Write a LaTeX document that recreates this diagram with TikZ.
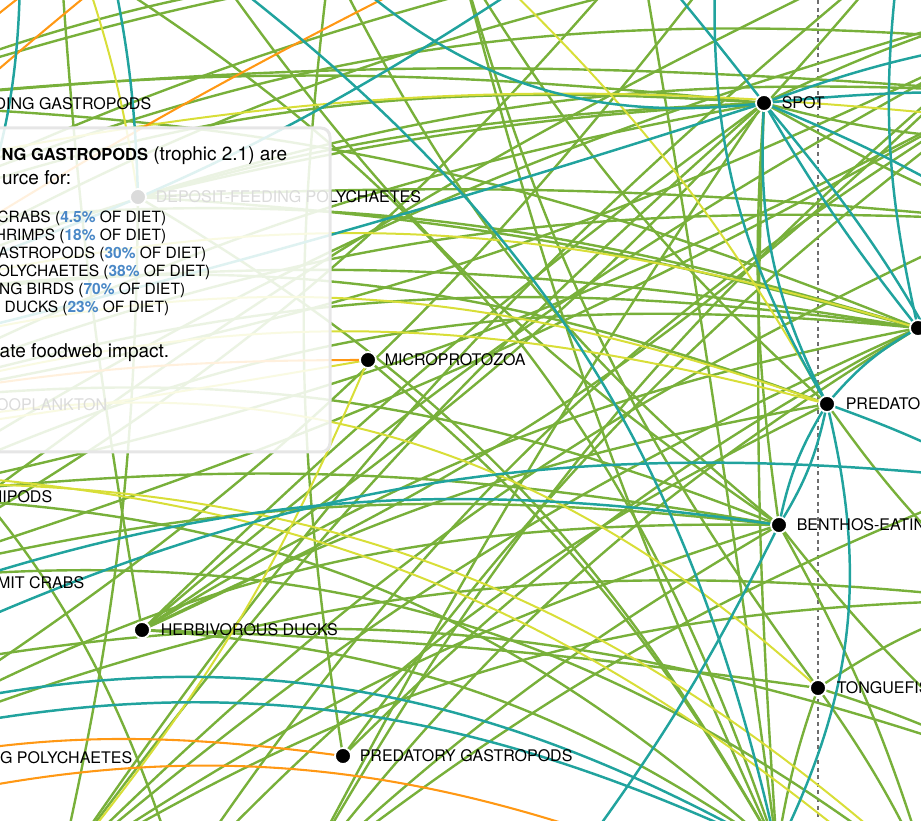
\documentclass[tikz,border=0pt]{standalone}
\usepackage{fontspec}
\setmainfont{TeX Gyre Heros}
\definecolor{gr}{RGB}{120,176,58}
\definecolor{tl}{RGB}{33,163,158}
\definecolor{yl}{RGB}{216,222,56}
\definecolor{og}{RGB}{255,152,20}
\definecolor{pc}{RGB}{74,136,199}
\definecolor{bx}{RGB}{230,230,230}
\definecolor{dsh}{RGB}{110,110,110}
\tikzset{
 gline/.style={draw=gr, line width=0.6pt},
 tline/.style={draw=tl, line width=0.62pt},
 yline/.style={draw=yl, line width=0.5pt},
 oline/.style={draw=og, line width=0.52pt},
 dot/.style={circle, fill=black, draw=white, line width=0.45pt, minimum size=4pt, inner sep=0pt},
 lbl/.style={inner sep=0pt, font=\fontsize{4}{4.75}\selectfont, anchor=base west},
 lble/.style={inner sep=0pt, font=\fontsize{4}{4.75}\selectfont, anchor=base east},
 lst/.style={inner sep=0pt, font=\fontsize{3.875}{4.5}\selectfont, anchor=base east},
 big/.style={inner sep=0pt, font=\fontsize{4.75}{5.5}\selectfont, anchor=base east},
 dashline/.style={draw=dsh, line width=0.45pt, dash pattern=on 1pt off 0.9pt},
 tipbox/.style={fill=white, fill opacity=0.86, draw=bx, draw opacity=1, line width=0.75pt, rounded corners=2.25pt},
}
\newcommand{\pct}[1]{\textcolor{pc}{\bfseries #1}}
\begin{document}
\begin{tikzpicture}[x=0.25pt,y=-0.25pt]
\useasboundingbox (0,0) rectangle (921,821);
\clip (0,0) rectangle (921,821);
% visible nodes
\coordinate (spot) at (764,103);
\coordinate (rr) at (918,328);
\coordinate (pred) at (827,404);
\coordinate (benth) at (779,525);
\coordinate (tong) at (818,688);
\coordinate (micro) at (368,360);
\coordinate (herb) at (142,630);
\coordinate (predg) at (343,756);
\coordinate (dfp) at (138,197);
% off-picture ends
\coordinate (dg) at (-150,104);
\coordinate (shr) at (-170,235);
\coordinate (lA) at (-140,300);
\coordinate (lC) at (-150,360);
\coordinate (zoo) at (-140,405);
\coordinate (lD) at (-150,440);
\coordinate (amph) at (-110,497);
\coordinate (hcrab) at (-130,583);
\coordinate (lE) at (-150,620);
\coordinate (lB) at (-150,680);
\coordinate (lF) at (-200,740);
\coordinate (lG) at (-200,760);
\coordinate (dpoly) at (-150,758);
\coordinate (bA) at (60,870);
\coordinate (bA2) at (180,880);
\coordinate (bB) at (300,880);
\coordinate (bC) at (560,880);
\coordinate (bD) at (777,850);
\coordinate (bE) at (930,880);
\coordinate (bE2) at (900,880);
\coordinate (tA) at (60,-50);
\coordinate (tA2) at (110,-40);
\coordinate (tL) at (20,-40);
\coordinate (tB) at (215,-30);
\coordinate (tB2) at (330,-40);
\coordinate (tC) at (460,-40);
\coordinate (yC) at (490,-30);
\coordinate (tC2) at (560,-40);
\coordinate (tD) at (640,-50);
\coordinate (tE) at (715,-30);
\coordinate (tF) at (900,-50);
\coordinate (rA2) at (1000,10);
\coordinate (rA) at (1000,40);
\coordinate (rB) at (1000,92);
\coordinate (yE) at (1000,120);
\coordinate (rB2) at (1000,140);
\coordinate (rC) at (1000,220);
\coordinate (rD) at (1000,480);
\coordinate (rE) at (1000,600);
\coordinate (rF) at (1000,760);
\coordinate (oA) at (-60,120);
\coordinate (oB) at (130,-40);
\coordinate (oC) at (-40,45);
\coordinate (oD) at (55,-30);
\coordinate (oE) at (-250,800);
\coordinate (oF) at (-200,830);
\coordinate (oG) at (720,880);
\coordinate (yA) at (-120,20);
\coordinate (yB) at (80,-40);
\coordinate (yD) at (-150,180);
\coordinate (yG) at (-150,470);
\coordinate (yH) at (-150,485);
\coordinate (dtop) at (818,0);
\coordinate (dbot) at (818,821);
% dashed marker
\draw[dashline] (dtop) -- (dbot);
% green links
\foreach \a/\b/\c in {
 dg/spot/6, shr/spot/12, lA/spot/10, zoo/spot/8, herb/spot/4, bA/spot/6, bB/spot/3, dfp/spot/5,
 spot/rA2/4, spot/bD/-3,
 dg/rr/10, shr/rr/12, lA/rr/8, zoo/rr/12, amph/rr/15, herb/rr/10, dfp/rr/6, bA/rr/8, bB/rr/10, predg/rr/8,
 lA/pred/14, herb/pred/8, bA2/pred/10, tC/pred/-8,
 zoo/benth/14, amph/benth/8, hcrab/benth/10, dpoly/benth/15, bA/benth/8, bB/benth/6, tB/benth/-10, spot/benth/-6,
 herb/tong/3, tong/bE/5, tong/rE/8, tong/bD/-5,
 micro/bD/10, dfp/bD/15, tC/bD/-5, tD/bD/1, tA/bD/20, herb/bD/15,
 bA/rC/10, bA2/rB/12, bB/rD/8, bA/rE/15,
 tA/herb/-3, tB2/predg/-8,
 amph/bD/20, hcrab/bE/22, lB/rF/15, dpoly/rE/14,
 tD/hcrab/10, tE/dpoly/10, tF/herb/8, rA/herb/10, rB/amph/8,
 dg/tF/10, shr/rA/14, dg/rB/5,
 bA/tF/8, bB/rA/10, herb/rA/6, predg/rB/8, hcrab/tF/6, amph/rA2/8,
 dfp/rB/10, dfp/rC/4, zoo/rC/12, tB2/benth/-12, tC/tong/-10,
 rA/zoo/8, rB/hcrab/6, spot/rB2/-6, spot/rC/-3,
 shr/tD/6, lA/tE/8, dg/tC2/10, pred/rE/-6, benth/rF/-5, benth/bE/6, tong/rF/4,
 dfp/bA/6, lC/bA2/15}
 \draw[gline] (\a) to[bend left=\c] (\b);
% yellow links
\foreach \a/\b/\c in {
 micro/bA/8, micro/lD/1, yA/yB/1, yB/dfp/5, yC/pred/8, yD/yE/9, lA/rr/15, lC/pred/17, zoo/pred/15,
 lD/tong/28, yG/bE2/19, yH/bE/22}
 \draw[yline] (\a) to[bend left=\c] (\b);
% orange links
\foreach \a/\b/\c in {
 oA/oB/1, oC/oD/1, lA/tC/3, micro/zoo/-5, oE/predg/12, oF/oG/19}
 \draw[oline] (\a) to[bend left=\c] (\b);
% teal links
\foreach \a/\b/\c in {
 spot/rA/5, spot/rB/3, spot/rC/4, spot/rr/-4, spot/pred/-15, tE/pred/-16, spot/rD/8, tB2/spot/-25,
 tC2/lA/8, spot/lC/2, tB/bD/20, pred/rr/10, pred/benth/10, pred/benth/-10, pred/bD/20, pred/rD/4,
 rr/tF/10, benth/bC/5, lB/rD/16, lE/benth/14, lF/bD/23, lG/bD/20, tL/zoo/20, tA2/dfp/5, tD/spot/1}
 \draw[tline] (\a) to[bend left=\c] (\b);
% dots and labels
\node[dot] (spotd) at (spot) {};
\node[lbl] (spotl) at (781,109) {SPOT};
\node[dot] (rrd) at (rr) {};
\node[dot] (predd) at (pred) {};
\node[lbl] (predl) at (845,410) {PREDATO};
\node[dot] (benthd) at (benth) {};
\node[lbl] (benthl) at (796,531) {BENTHOS-EATIN};
\node[dot] (tongd) at (tong) {};
\node[lbl] (tongl) at (836,694) {TONGUEFIS};
\node[dot] (microd) at (micro) {};
\node[lbl] (microl) at (384,366) {MICROPROTOZOA};
\node[dot] (herbd) at (herb) {};
\node[lbl] (herbl) at (160,636) {HERBIVOROUS DUCKS};
\node[dot] (predgd) at (predg) {};
\node[lbl] (predgl) at (359,762) {PREDATORY GASTROPODS};
\node[dot] (dfpd) at (dfp) {};
\node[lbl] (dfpl) at (155,203) {DEPOSIT-FEEDING POLYCHAETES};
\node[lble] (dgl) at (152,110) {DING GASTROPODS};
\node[lble] (zool) at (108,411) {OOPLANKTON};
\node[lble] (amphl) at (53,503) {HIPODS};
\node[lble] (hcrabl) at (85,589) {MIT CRABS};
\node[lble] (dpolyl) at (133,764) {G POLYCHAETES};
% tooltip
\coordinate (bxa) at (-20,128);
\coordinate (bxb) at (330,452);
\draw[tipbox] (bxa) rectangle (bxb);
\node[big] (h1) at (288,161) {{\fontsize{4.125}{4.75}\selectfont\bfseries NG GASTROPODS} (trophic 2.1) are};
\node[big] (h2) at (72,185) {urce for:};
\node[lst] (i1) at (167,222.5) {CRABS (\pct{4.5\%} OF DIET)};
\node[lst] (i2) at (167,240.5) {HRIMPS (\pct{18\%} OF DIET)};
\node[lst] (i3) at (207,258.5) {ASTROPODS (\pct{30\%} OF DIET)};
\node[lst] (i4) at (211,276.5) {OLYCHAETES (\pct{38\%} OF DIET)};
\node[lst] (i5) at (186,294.5) {NG BIRDS (\pct{70\%} OF DIET)};
\node[lst] (i6) at (170,312.5) {DUCKS (\pct{23\%} OF DIET)};
\node[big] (h3) at (170,357.5) {ate foodweb impact.};
\end{tikzpicture}
\end{document}
